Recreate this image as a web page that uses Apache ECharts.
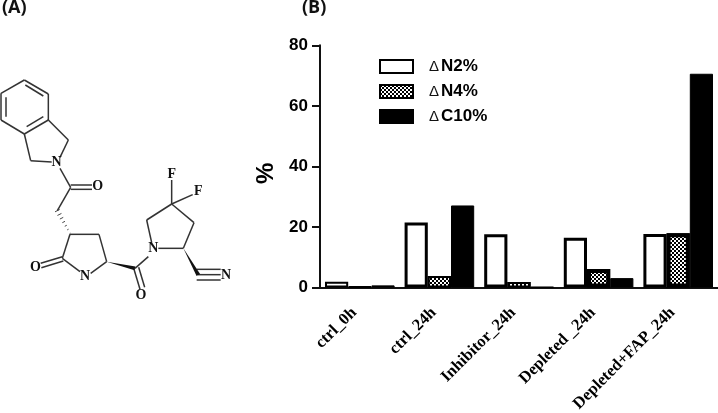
<!DOCTYPE html>
<html>
<head>
<meta charset="utf-8">
<style>
  html, body { margin: 0; padding: 0; background: #fff; }
  #main { width: 718px; height: 413px; }
</style>
<script src="https://cdn.jsdelivr.net/npm/echarts@6/dist/echarts.min.js"></script>
</head>
<body>
<div id="main"></div>
<script>
var categories = ['ctrl_0h', 'ctrl_24h', 'Inhibitor_24h', 'Depleted _24h', 'Depleted+FAP_24h'];
var n2 = [1.9, 21.5, 17.6, 16.4, 17.7];
var n4 = [0.3, 3.8, 1.8, 6.1, 17.9];
var c10 = [0.7, 27.1, 0.2, 3.1, 70.6];
var yTicks = [0, 20, 40, 60, 80];

// the molecule in panel A, drawn at 3x and scaled down
var bonds = [
  [73,240,145,282],[145,282,145,360],[145,360,73,402],[73,402,3,360],[3,360,3,280],[3,280,73,240],
  [76,255,130,288],[130,350,80,380],[18,292,18,350],
  [145,360,205,420],[205,420,180,472],[155,486,92,482],[92,482,73,402],
  [180,505,212,562],[212,555,276,555],[212,568,276,568],[212,562,172,632],
  [210,703,297,703],[297,703,320,785],[320,785,272,820],[240,815,187,775],[187,775,210,703],
  [187,770,122,790],[190,783,124,803],
  [405,805,445,770],[402,808,420,868],[416,802,434,862],
  [475,745,550,745],[550,745,582,668],[582,668,515,612],[515,612,440,660],[440,660,455,728],
  [515,612,515,540],[515,612,578,584],
  [590,808,662,808],[594,824,662,824],[590,840,662,840]
];
var wedges = [
  [320,785,405,805],
  [550,745,595,825]
];
var atoms = [
  ['N',170,488],['O',293,560],['O',106,802],['N',255,830],['O',423,887],
  ['N',460,745],['F',515,523],['F',595,575],['N',678,825]
];

function moleculeParts() {
  var parts = [];
  bonds.forEach(function (b) {
    parts.push({ type: 'line', shape: { x1: b[0] / 3, y1: b[1] / 3, x2: b[2] / 3, y2: b[3] / 3 },
      style: { stroke: '#333', lineWidth: 1.5 } });
  });
  wedges.forEach(function (w) {
    var dx = w[2] - w[0], dy = w[3] - w[1], len = Math.sqrt(dx * dx + dy * dy);
    var px = -dy / len * 6, py = dx / len * 6;
    parts.push({ type: 'polygon',
      shape: { points: [[w[0] / 3, w[1] / 3], [(w[2] + px) / 3, (w[3] + py) / 3], [(w[2] - px) / 3, (w[3] - py) / 3]] },
      style: { fill: '#111' } });
  });
  // hashed wedge
  for (var i = 0; i < 7; i++) {
    var t = i / 6, cx = 172 + 38 * t, cy = 632 + 68 * t, half = 1 + 6 * (1 - t);
    parts.push({ type: 'line',
      shape: { x1: (cx - half) / 3, y1: (cy + half * 0.5) / 3, x2: (cx + half) / 3, y2: (cy - half * 0.5) / 3 },
      style: { stroke: '#333', lineWidth: 0.9 } });
  }
  atoms.forEach(function (a) {
    parts.push({ type: 'text', x: a[1] / 3, y: a[2] / 3,
      style: { text: a[0], fill: '#111', font: 'bold 14px "Liberation Serif"', align: 'center', verticalAlign: 'middle' } });
  });
  return parts;
}

function legendText(name) {
  return '{d|\u0394}{t|' + name + '}';
}

// short bars need a thinner outline or the white inside disappears
function thinOutline(values, width) {
  return values.map(function (v) {
    return v < 5 ? { value: v, itemStyle: { borderWidth: width } } : v;
  });
}

var chart = echarts.init(document.getElementById('main'));
chart.setOption({
  animation: false,
  backgroundColor: '#fff',
  grid: { left: 320, right: 0, top: 45.3, height: 242.2, outerBoundsMode: 'none' },
  legend: {
    left: 374,
    top: 53,
    orient: 'vertical',
    icon: 'rect',
    itemWidth: 33,
    itemHeight: 13,
    itemGap: 8,
    selectedMode: false,
    formatter: function (name) { return legendText(name); },
    textStyle: {
      padding: [0, 0, 0, 11],
      rich: {
        d: { fontFamily: 'Liberation Sans', fontSize: 15, color: '#111', padding: [0, 2, 0, 0] },
        t: { fontFamily: 'Liberation Sans', fontWeight: 'bold', fontSize: 17, color: '#000' }
      }
    },
    data: ['N2%', 'N4%', 'C10%']
  },
  xAxis: {
    type: 'category',
    data: categories,
    axisLine: { lineStyle: { color: '#111', width: 2 } },
    axisTick: { alignWithLabel: true, length: 8, lineStyle: { color: '#111', width: 1.5 } },
    axisLabel: {
      rotate: 45,
      interval: 0,
      margin: 17,
      padding: [0, 8, 0, 0],
      color: '#000',
      fontFamily: 'Liberation Serif',
      fontWeight: 'bold',
      fontSize: 16.5
    }
  },
  yAxis: {
    type: 'value',
    min: 0,
    max: 80,
    interval: 20,
    name: '%',
    nameLocation: 'middle',
    nameGap: 36,
    nameRotate: 90,
    nameTextStyle: { fontFamily: 'Liberation Sans', fontWeight: 'bold', fontSize: 24, color: '#000', padding: [0, 14, 0, 0] },
    splitLine: { show: false },
    axisLine: { show: true, lineStyle: { color: '#111', width: 2 } },
    axisTick: { show: true, length: 8, lineStyle: { color: '#111', width: 2 } },
    axisLabel: {
      margin: 12,
      color: '#000',
      fontFamily: 'Liberation Sans',
      fontWeight: 'bold',
      fontSize: 17,
      customValues: yTicks
    }
  },
  series: [
    { name: 'N2%', type: 'bar', data: thinOutline(n2, 2), barWidth: 23.2, barGap: '0%',
      itemStyle: { color: '#fff', borderColor: '#000', borderWidth: 3 } },
    { name: 'N4%', type: 'bar', data: thinOutline(n4, 2), barWidth: 23.2, barGap: '0%',
      itemStyle: { color: '#000', borderColor: '#000', borderWidth: 4,
        decal: { symbol: 'rect', symbolSize: 1, color: '#fff', backgroundColor: '#000',
          dashArrayX: [[2, 2], [0, 2, 2, 0]], dashArrayY: [2, 0], rotation: 0 } } },
    { name: 'C10%', type: 'bar', data: c10, barWidth: 23.2, barGap: '0%',
      itemStyle: { color: '#000', borderColor: '#000', borderWidth: 1 } }
  ],
  graphic: [
    { type: 'group', left: 0, top: 0, silent: true, bounding: 'raw', children: moleculeParts() },
    { type: 'text', x: 2, y: -1, style: { text: '(A)', fill: '#111', font: 'bold 18px "Open Sans"' } },
    { type: 'text', x: 302, y: -1, style: { text: '(B)', fill: '#111', font: 'bold 18px "Open Sans"' } }
  ]
});
</script>
</body>
</html>
